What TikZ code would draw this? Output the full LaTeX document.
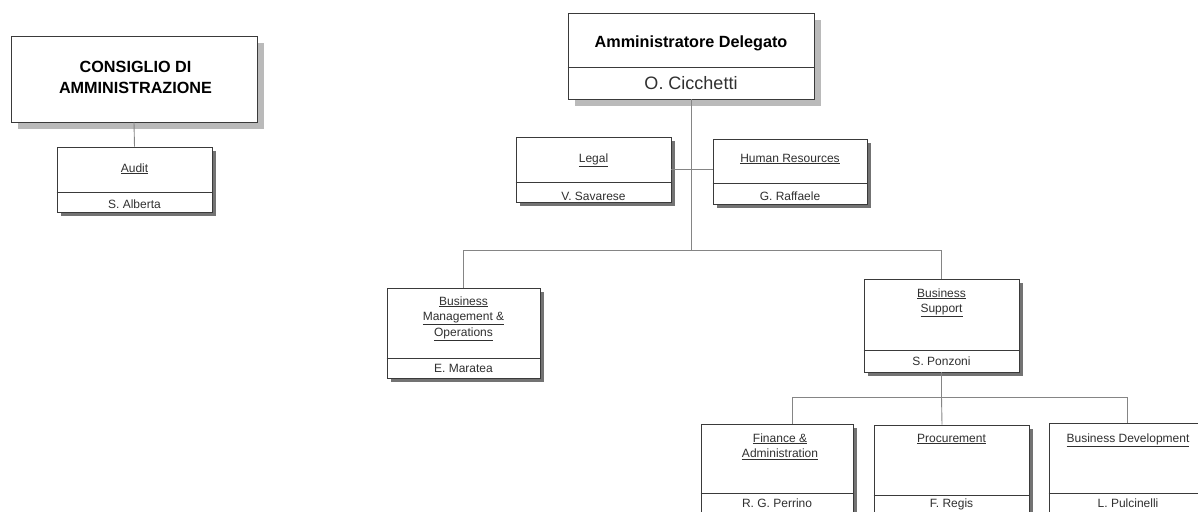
\documentclass[tikz,border=0pt]{standalone}
\usepackage{fontspec}
\setmainfont{Liberation Sans}
\usetikzlibrary{shadows}
\definecolor{conncol}{HTML}{858585}
\definecolor{edgecol}{HTML}{3A3A3A}
\definecolor{txtcol}{HTML}{303030}
\tikzset{
  unitbox/.style={draw=edgecol, line width=0.9pt, fill=white, inner sep=0pt,
    drop shadow={shadow xshift=4pt, shadow yshift=-4pt, fill=black!55, opacity=1}},
  bigbox/.style={draw=edgecol, line width=0.9pt, fill=white, inner sep=0pt,
    drop shadow={shadow xshift=7pt, shadow yshift=-7pt, fill=black!27, opacity=1}},
  divline/.style={draw=edgecol, line width=0.8pt},
  conn/.style={draw=conncol, line width=0.9pt},
  small/.style={anchor=base, inner sep=0pt, text=txtcol, font=\fontsize{12}{15}\selectfont},
  bigtitle/.style={anchor=base, inner sep=0pt, text=black, font=\fontsize{16.2}{20}\selectfont\bfseries},
  bigname/.style={anchor=base, inner sep=0pt, text=txtcol, font=\fontsize{18}{22}\selectfont},
}
\begin{document}
\begin{tikzpicture}[x=1pt, y=-1pt]
\useasboundingbox (0,0) rectangle (1198,511);
\clip (0,0) rectangle (1198,511);
\coordinate (h1) at (0,250);
\coordinate (h2) at (0,397);
% boxes
\node[bigbox, minimum width=246pt, minimum height=86pt] (cda) at (134,79) {};
\node[unitbox, minimum width=155pt, minimum height=65pt] (audit) at (134.5,179.5) {};
\node[bigbox, minimum width=246pt, minimum height=86pt] (ad) at (691,56) {};
\node[unitbox, minimum width=155pt, minimum height=65pt] (legal) at (593.5,169.5) {};
\node[unitbox, minimum width=154pt, minimum height=65pt] (hr) at (790,171.5) {};
\node[unitbox, minimum width=153pt, minimum height=90pt] (bm) at (463.5,333) {};
\node[unitbox, minimum width=155pt, minimum height=93pt] (bs) at (941.5,325.5) {};
\node[unitbox, minimum width=152pt, minimum height=96pt] (fin) at (777,472) {};
\node[unitbox, minimum width=155pt, minimum height=100pt] (proc) at (951.5,475) {};
\node[unitbox, minimum width=156pt, minimum height=97pt] (bd) at (1127,471.5) {};
% connectors
\draw[conn] (cda.south) -- (audit.north);
\draw[conn] (ad.south) -- (ad.south |- h1);
\draw[conn] (legal.east) -- (legal.east -| hr.west);
\draw[conn] (bm.north) |- (h1 -| bs.north) -- (bs.north);
\draw[conn] (bs.south) -- (bs.south |- h2);
\draw[conn] ([xshift=15pt]fin.north) |- (h2 -| bd.north) -- (bd.north);
\draw[conn] ([xshift=-9.5pt]proc.north) -- (bs.south |- h2);
% dividers
\draw[divline] ([yshift=20pt]audit.south west) -- ([yshift=20pt]audit.south east);
\draw[divline] ([yshift=32pt]ad.south west) -- ([yshift=32pt]ad.south east);
\draw[divline] ([yshift=20pt]legal.south west) -- ([yshift=20pt]legal.south east);
\draw[divline] ([yshift=21pt]hr.south west) -- ([yshift=21pt]hr.south east);
\draw[divline] ([yshift=20pt]bm.south west) -- ([yshift=20pt]bm.south east);
\draw[divline] ([yshift=22pt]bs.south west) -- ([yshift=22pt]bs.south east);
\draw[divline] ([yshift=27pt]fin.south west) -- ([yshift=27pt]fin.south east);
\draw[divline] ([yshift=30pt]proc.south west) -- ([yshift=30pt]proc.south east);
\draw[divline] ([yshift=27pt]bd.south west) -- ([yshift=27pt]bd.south east);
% texts
\node[bigtitle] (cdaA) at (135.5,72) {CONSIGLIO DI};
\node[bigtitle] (cdaB) at (135.5,93) {AMMINISTRAZIONE};
\node[bigtitle] (adT) at (691,48) {Amministratore Delegato};
\node[bigname] (adN) at (691,89) {O. Cicchetti};
\node[small] (auditT) at (134.5,172) {\underline{Audit}};
\node[small] (auditN) at (134.5,208) {S. Alberta};
\node[small] (legalT) at (593.5,162) {\underline{Legal}};
\node[small] (legalN) at (593.5,200) {V. Savarese};
\node[small] (hrT) at (790,162) {\underline{Human Resources}};
\node[small] (hrN) at (790,200) {G. Raffaele};
\node[small] (bmA) at (463.5,305) {\underline{Business}};
\node[small] (bmB) at (463.5,320.5) {\underline{Management \&}};
\node[small] (bmC) at (463.5,336) {\underline{Operations}};
\node[small] (bmN) at (463.5,372) {E. Maratea};
\node[small] (bsA) at (941.5,297) {\underline{Business}};
\node[small] (bsB) at (941.5,312.5) {\underline{Support}};
\node[small] (bsN) at (941.5,365) {S. Ponzoni};
\node[small] (finA) at (780,442) {\underline{Finance \&}};
\node[small] (finB) at (780,457.5) {\underline{Administration}};
\node[small] (finN) at (777,507) {R. G. Perrino};
\node[small] (procT) at (951.5,442) {\underline{Procurement}};
\node[small] (procN) at (951.5,507.5) {F. Regis};
\node[small] (bdT) at (1128,442) {\underline{Business Development}};
\node[small] (bdN) at (1128,507) {L. Pulcinelli};
\end{tikzpicture}
\end{document}
